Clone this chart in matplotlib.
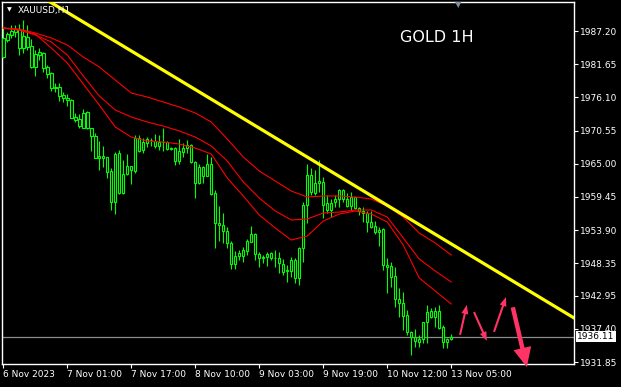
import matplotlib
matplotlib.use("Agg")
import matplotlib.pyplot as plt

# XAUUSD H1 candles (one per hour, left to right)
opens = [1982.9, 1985.7, 1986.5, 1987.0, 1987.5, 1984.4, 1986.2, 1984.7, 1981.2, 1983.7,
         1983.6, 1981.2, 1980.2, 1977.8, 1977.8, 1976.5, 1976.0, 1975.7, 1972.8, 1972.5,
         1971.0, 1973.6, 1970.9, 1969.6, 1966.0, 1966.3, 1966.1, 1963.8, 1958.6, 1966.8,
         1960.1, 1963.3, 1964.6, 1963.8, 1969.3, 1967.3, 1968.5, 1969.0, 1968.8, 1968.0,
         1968.6, 1968.7, 1967.5, 1967.6, 1965.5, 1967.0, 1967.6, 1968.1, 1965.3, 1961.8,
         1964.5, 1963.0, 1965.0, 1960.1, 1955.1, 1954.8, 1953.8, 1951.8, 1948.2, 1949.5,
         1949.5, 1950.4, 1952.0, 1953.3, 1949.9, 1949.2, 1949.4, 1950.1, 1949.3, 1949.2,
         1948.2, 1947.0, 1947.1, 1948.9, 1945.9, 1950.9, 1958.1, 1963.1, 1960.1, 1961.8,
         1962.0, 1958.4, 1957.3, 1958.6, 1959.1, 1960.6, 1959.1, 1957.9, 1959.4, 1957.6,
         1957.1, 1956.8, 1955.3, 1954.6, 1953.6, 1954.1, 1948.1, 1947.9, 1946.2, 1942.4,
         1941.7, 1939.7, 1936.9, 1936.0, 1935.2, 1935.7, 1938.5, 1939.4, 1940.4, 1940.4,
         1937.7, 1935.2, 1935.7]
highs = [1987.9, 1987.0, 1988.2, 1988.2, 1988.4, 1989.0, 1988.2, 1985.9, 1984.0, 1984.4,
         1983.7, 1981.5, 1980.3, 1978.5, 1978.5, 1977.0, 1976.7, 1975.8, 1973.5, 1973.3,
         1974.2, 1973.8, 1971.0, 1970.1, 1968.8, 1968.0, 1966.2, 1964.3, 1967.0, 1967.3,
         1965.6, 1966.6, 1964.7, 1969.8, 1969.8, 1969.3, 1969.5, 1969.3, 1970.0, 1969.8,
         1971.0, 1968.8, 1967.8, 1967.8, 1969.1, 1968.5, 1969.0, 1968.3, 1965.5, 1965.0,
         1964.6, 1966.6, 1966.1, 1960.6, 1957.9, 1956.8, 1954.4, 1952.1, 1950.4, 1950.6,
         1951.1, 1952.4, 1954.6, 1953.4, 1950.2, 1949.7, 1950.2, 1950.2, 1950.6, 1950.2,
         1949.1, 1948.1, 1949.4, 1949.2, 1951.1, 1958.6, 1965.0, 1964.3, 1964.0, 1965.6,
         1962.8, 1959.8, 1959.1, 1959.8, 1960.8, 1960.8, 1960.1, 1960.3, 1959.5, 1957.8,
         1957.8, 1957.1, 1957.1, 1955.4, 1954.4, 1954.3, 1949.2, 1948.6, 1947.7, 1944.2,
         1943.6, 1940.5, 1937.0, 1937.4, 1936.4, 1938.6, 1941.4, 1940.9, 1941.0, 1941.4,
         1938.0, 1935.9, 1936.5]
lows = [1982.7, 1985.4, 1986.0, 1986.2, 1983.2, 1983.5, 1984.0, 1981.0, 1979.7, 1982.4,
        1980.3, 1979.3, 1977.2, 1977.0, 1975.5, 1975.3, 1974.7, 1972.6, 1972.0, 1971.0,
        1970.9, 1970.8, 1967.1, 1965.9, 1964.0, 1964.5, 1962.6, 1957.3, 1956.6, 1960.0,
        1960.0, 1963.1, 1961.6, 1963.5, 1967.0, 1966.8, 1967.8, 1968.0, 1967.6, 1967.3,
        1967.1, 1967.3, 1967.3, 1964.8, 1965.0, 1966.1, 1966.8, 1965.2, 1959.3, 1961.6,
        1961.8, 1962.9, 1959.8, 1950.9, 1952.1, 1951.8, 1950.9, 1947.4, 1947.4, 1948.9,
        1948.6, 1949.7, 1951.9, 1948.9, 1947.7, 1948.4, 1947.9, 1948.9, 1947.7, 1946.7,
        1946.4, 1945.2, 1946.1, 1945.1, 1944.7, 1948.6, 1955.1, 1959.8, 1959.8, 1960.3,
        1955.9, 1956.8, 1956.1, 1957.8, 1957.8, 1958.6, 1957.8, 1957.3, 1957.5, 1956.4,
        1955.3, 1953.6, 1954.3, 1953.3, 1951.3, 1947.2, 1943.4, 1944.4, 1941.1, 1939.4,
        1937.2, 1936.4, 1933.0, 1934.4, 1934.4, 1935.0, 1935.0, 1939.2, 1937.7, 1937.4,
        1934.2, 1934.2, 1935.5]
closes = [1986.0, 1986.7, 1987.2, 1987.5, 1984.4, 1986.4, 1984.5, 1981.2, 1983.4, 1983.2,
          1981.0, 1980.0, 1977.7, 1977.7, 1976.3, 1976.0, 1975.7, 1972.7, 1972.3, 1971.3,
          1973.5, 1971.0, 1969.6, 1966.0, 1966.3, 1966.0, 1963.6, 1958.6, 1966.6, 1960.1,
          1963.3, 1964.6, 1964.0, 1969.3, 1967.1, 1968.6, 1969.1, 1968.9, 1968.0, 1968.6,
          1968.7, 1967.5, 1967.6, 1965.5, 1967.1, 1967.6, 1968.1, 1965.3, 1961.8, 1964.5,
          1963.0, 1965.0, 1959.9, 1955.1, 1954.8, 1953.8, 1951.8, 1948.2, 1949.6, 1950.1,
          1950.6, 1952.1, 1953.3, 1949.9, 1949.2, 1949.4, 1949.9, 1949.3, 1949.2, 1948.4,
          1946.9, 1947.2, 1948.9, 1945.9, 1950.9, 1958.1, 1963.1, 1960.3, 1961.8, 1962.1,
          1958.1, 1957.3, 1958.4, 1959.1, 1960.6, 1959.1, 1957.9, 1959.4, 1957.6, 1957.1,
          1956.8, 1955.3, 1954.4, 1953.6, 1953.9, 1948.1, 1947.7, 1946.1, 1942.4, 1941.7,
          1939.5, 1936.9, 1936.0, 1935.4, 1935.7, 1938.5, 1940.2, 1940.4, 1939.4, 1937.5,
          1935.2, 1935.7, 1936.11]

# three moving averages, sampled every 4 bars
ma_idx = list(range(0, 113, 4))
ma_slow = [1987.70, 1987.53, 1986.86, 1986.03, 1984.86, 1982.85, 1981.18, 1979.00, 1976.83,
           1976.16, 1975.33, 1974.49, 1973.49, 1971.98, 1969.14, 1966.13, 1963.79, 1962.12,
           1960.44, 1959.44, 1959.61, 1959.61, 1959.44, 1959.11, 1957.94, 1956.10, 1953.42,
           1951.75, 1949.74]
ma_mid = [1987.70, 1987.36, 1986.53, 1985.36, 1983.18, 1979.67, 1976.33, 1973.99, 1972.82,
          1971.98, 1971.31, 1970.48, 1969.47, 1967.97, 1965.46, 1961.95, 1959.27, 1957.10,
          1955.60, 1955.76, 1956.77, 1956.93, 1957.27, 1957.27, 1956.10, 1952.59, 1949.07,
          1947.07, 1945.23]
ma_fast = [1987.70, 1987.36, 1986.70, 1984.35, 1981.85, 1978.34, 1974.82, 1971.15, 1969.47,
           1968.80, 1968.64, 1968.30, 1967.63, 1966.63, 1962.62, 1959.61, 1956.43, 1954.26,
           1952.25, 1952.92, 1955.43, 1956.60, 1957.10, 1956.60, 1955.26, 1951.42, 1945.90,
           1943.73, 1941.55]

# falling trend line (two anchor points)
trend_idx = [11.7, 143.0]
trend_price = [1992.05, 1939.1]

# forecast arrows: (tail bar, tail price, tip bar, tip price)
arrows = [(114.2, 1936.4, 115.9, 1941.4),
          (117.7, 1940.2, 120.9, 1935.4),
          (122.7, 1936.9, 125.7, 1942.7),
          (127.4, 1941.0, 130.9, 1931.0)]

last_price = 1936.11
price_ticks = [1987.20, 1981.65, 1976.10, 1970.55, 1965.00, 1959.45,
               1953.90, 1948.35, 1942.95, 1937.40, 1931.85]
time_ticks = [0, 16, 32, 48, 64, 80, 96, 112]
time_labels = ["6 Nov 2023", "7 Nov 01:00", "7 Nov 17:00", "8 Nov 10:00",
               "9 Nov 03:00", "9 Nov 19:00", "10 Nov 12:00", "13 Nov 05:00"]

W, H = 621, 387
fig = plt.figure(figsize=(W / 100, H / 100), dpi=100, facecolor="black")
ax = fig.add_axes([2 / W, 1 - 364 / H, 572 / W, 362 / H])
ax.set_facecolor("black")

idx = list(range(len(opens)))
green = "#00ff00"

# wicks then bodies
ax.vlines(idx, lows, highs, color=green, lw=0.8, zorder=2)
bottoms = [min(o, c) for o, c in zip(opens, closes)]
heights = [max(abs(c - o), 0.05) for o, c in zip(opens, closes)]
ax.bar(idx, heights, bottom=bottoms, width=0.6, facecolor="black",
       edgecolor=green, lw=0.8, zorder=3)

# moving averages
for ma in (ma_slow, ma_mid, ma_fast):
    ax.plot(ma_idx, ma, color="red", lw=0.8, zorder=4)

# trend line
ax.plot(trend_idx, trend_price, color="#ffff00", lw=2.3, zorder=5)

# last price line
ax.axhline(last_price, color="#8c8c8c", lw=0.9, zorder=1)

# forecast arrows
for k, (x0, y0, x1, y1) in enumerate(arrows):
    if k < 3:
        style = "simple,head_length=1.3,head_width=1.0,tail_width=0.3"
        scale = 5
    else:
        style = "simple,head_length=1.4,head_width=1.3,tail_width=0.32"
        scale = 10
    ann = ax.annotate("", xy=(x1, y1), xytext=(x0, y0), annotation_clip=False,
                      arrowprops=dict(arrowstyle=style, mutation_scale=scale,
                                      color="#ff3366", lw=0, shrinkA=0, shrinkB=0),
                      zorder=6)
    ann.arrow_patch.set_clip_on(False)

ax.set_xlim(-0.33, 142.7)
ax.set_ylim(1931.52, 1992.05)

for s in ax.spines.values():
    s.set_color("white")
    s.set_linewidth(1)

ax.yaxis.tick_right()
ax.set_yticks(price_ticks)
ax.set_yticklabels([f"{p:.2f}" for p in price_ticks])
ax.set_xticks(time_ticks)
ax.set_xticklabels(time_labels)
ax.tick_params(colors="white", labelsize=6.5, length=3, width=0.8, pad=1.5)
for lbl in ax.get_xticklabels():
    lbl.set_ha("left")

# last price box
ax.text(1.006, last_price, f"{last_price:.2f}", transform=ax.get_yaxis_transform(),
        ha="left", va="center", fontsize=6.5, color="black", zorder=10,
        bbox=dict(boxstyle="square,pad=0.15", facecolor="white", edgecolor="none"))

# header texts
fig.text(18 / W, 1 - 10 / H, "XAUUSD,H1", color="white", fontsize=6.5,
         ha="left", va="center")
fig.text(9 / W, 1 - 10 / H, "\u25bc", color="white", fontsize=4.5,
         ha="center", va="center")
fig.text(437 / W, 1 - 38 / H, "GOLD 1H", color="white", fontsize=11.5,
         ha="center", va="center")
fig.text(458 / W, 1 - 5 / H, "\u25bc", color="#8090a0", fontsize=6,
         ha="center", va="center")

fig.savefig("out.png", dpi=100, facecolor="black")
